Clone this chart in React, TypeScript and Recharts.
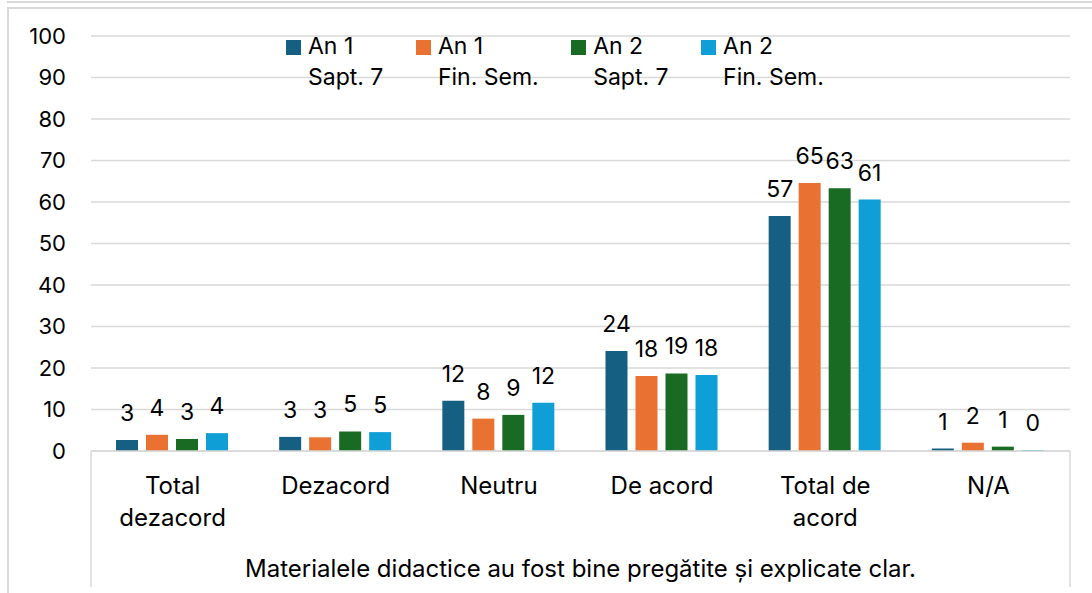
import React from 'react';
import { BarChart, Bar, XAxis, YAxis, CartesianGrid, Legend, LabelList } from 'recharts';

const categories = ['Total\ndezacord', 'Dezacord', 'Neutru', 'De acord', 'Total de\nacord', 'N/A'];
const an1Sapt7 = [2.65, 3.4, 12.1, 24.1, 56.6, 0.6];
const an1FinSem = [3.9, 3.3, 7.8, 18.1, 64.6, 2.0];
const an2Sapt7 = [2.9, 4.7, 8.7, 18.7, 63.3, 1.05];
const an2FinSem = [4.3, 4.55, 11.6, 18.3, 60.6, 0.25];
const yTicks = [0, 10, 20, 30, 40, 50, 60, 70, 80, 90, 100];
const axisTitle = 'Materialele didactice au fost bine pregătite și explicate clar.';

const series = [
  { key: 'an1s7', name: 'An 1\nSapt. 7', color: '#156082', values: an1Sapt7 },
  { key: 'an1fs', name: 'An 1\nFin. Sem.', color: '#e97132', values: an1FinSem },
  { key: 'an2s7', name: 'An 2\nSapt. 7', color: '#196b24', values: an2Sapt7 },
  { key: 'an2fs', name: 'An 2\nFin. Sem.', color: '#0f9ed5', values: an2FinSem },
];

const data = categories.map((category, i) => {
  const row: Record<string, string | number> = { category };
  series.forEach((s) => {
    row[s.key] = s.values[i];
  });
  return row;
});

const FONT = 'Inter, "Open Sans", sans-serif';
const GRID = '#d9d9d9';

// tick y already includes tickSize + tickMargin (8px below the axis)
function CategoryTick(props: any) {
  const { x, y, payload } = props;
  const lines = String(payload.value).split('\n');
  return (
    <text x={x} y={y + 35} textAnchor="middle" fontSize={24} fill="#000">
      {lines.map((line, i) => (
        <tspan key={i} x={x} dy={i === 0 ? 0 : 32}>
          {line}
        </tspan>
      ))}
    </text>
  );
}

function AxisTitle(props: any) {
  const { viewBox } = props;
  if (!viewBox) return null;
  const { x, y, width } = viewBox;
  return (
    <g>
      <line x1={x} x2={x} y1={y} y2={y + 136} stroke={GRID} strokeWidth={1.5} />
      <line x1={x + width} x2={x + width} y1={y} y2={y + 136} stroke={GRID} strokeWidth={1.5} />
      <text x={x + width / 2} y={y + 126} textAnchor="middle" fontSize={24} fill="#000">
        {axisTitle}
      </text>
    </g>
  );
}

function LegendContent() {
  return (
    <div style={{ display: 'flex', fontFamily: FONT, fontSize: 23, lineHeight: '31px', color: '#000' }}>
      {series.map((s) => (
        <div key={s.key} style={{ display: 'flex', alignItems: 'flex-start', marginRight: 32.5 }}>
          <div style={{ width: 15, height: 15, background: s.color, marginTop: 9, marginRight: 7 }} />
          <div>
            {s.name.split('\n').map((line, i) => (
              <div key={i} style={{ whiteSpace: 'nowrap' }}>{line}</div>
            ))}
          </div>
        </div>
      ))}
    </div>
  );
}

export default function App() {
  return (
    <div style={{ position: 'absolute', left: 0, top: 0, width: 1092, height: 593, overflow: 'hidden', background: '#fff', fontFamily: FONT }}>
      <div style={{ position: 'absolute', left: 7, top: 1, width: 1085, height: 0, borderTop: `2px solid ${GRID}` }} />
      <div style={{ position: 'absolute', left: 7, top: 7, width: 1100, height: 600, borderLeft: `2px solid ${GRID}`, borderTop: `2px solid ${GRID}`, boxSizing: 'border-box' }} />
      <div style={{ position: 'absolute', left: 0, top: 0 }}>
        <BarChart
          width={1092}
          height={593}
          data={data}
          margin={{ top: 36, right: 22, bottom: 0, left: 0 }}
          barCategoryGap={25}
          barGap={8}
        >
          <CartesianGrid vertical={false} stroke={GRID} strokeWidth={1.5} />
          <XAxis
            dataKey="category"
            height={142}
            interval={0}
            axisLine={{ stroke: GRID, strokeWidth: 1.5 }}
            tickLine={false}
            tick={<CategoryTick />}
            label={<AxisTitle />}
          />
          <YAxis
            width={91}
            domain={[0, 100]}
            ticks={yTicks}
            interval={0}
            axisLine={false}
            tickLine={false}
            tickSize={0}
            tickMargin={25}
            tick={{ fontSize: 22, fill: '#000' }}
          />
          <Legend
            layout="horizontal"
            verticalAlign="middle"
            align="center"
            content={<LegendContent />}
            wrapperStyle={{ top: 31, left: 286, width: 'auto' }}
          />
          {series.map((s) => (
            <Bar key={s.key} dataKey={s.key} name={s.name} fill={s.color} isAnimationActive={false}>
              <LabelList
                dataKey={s.key}
                position="top"
                offset={19}
                fontSize={23}
                fill="#000"
                formatter={(v: any) => Math.round(Number(v))}
              />
            </Bar>
          ))}
        </BarChart>
      </div>
    </div>
  );
}
